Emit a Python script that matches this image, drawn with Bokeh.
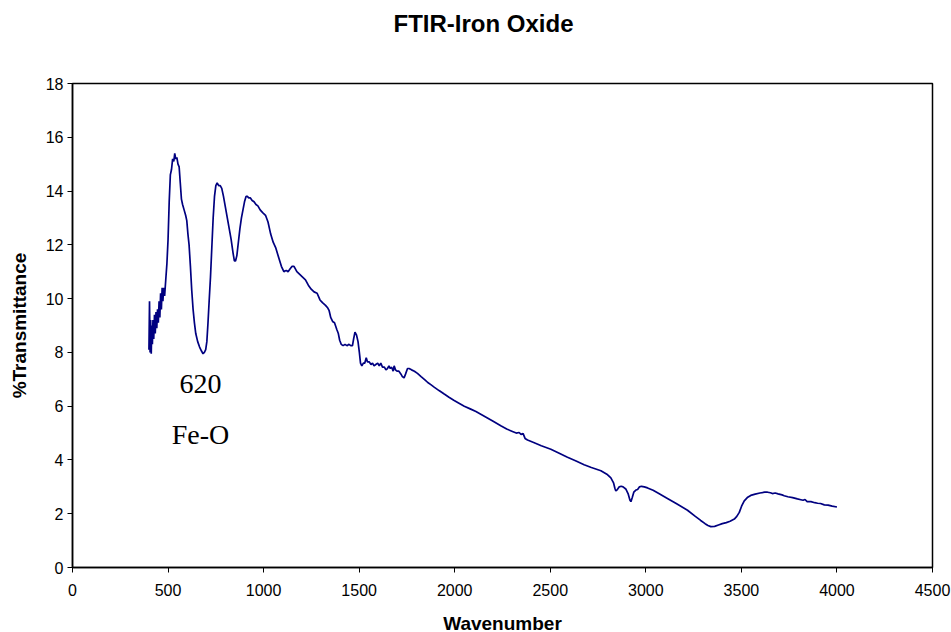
from bokeh.plotting import figure
from bokeh.models import Range1d, ColumnDataSource, FixedTicker, Title
from bokeh.core.properties import value
from bokeh.embed import file_html
from bokeh.resources import INLINE

title_text = "FTIR-Iron Oxide"
x_label = "Wavenumber"
y_label = "%Transmittance"
x_ticks = [0, 500, 1000, 1500, 2000, 2500, 3000, 3500, 4000, 4500]
y_ticks = [0, 2, 4, 6, 8, 10, 12, 14, 16, 18]

wavenumber = [
    400, 403, 406, 409, 412, 415, 418, 421, 425, 429, 433, 437, 441, 445, 449, 453, 457, 461,
    465, 469, 473, 477, 482, 488, 494, 500, 506, 512, 518, 524, 530, 535, 540, 546, 552, 558,
    564, 570, 576, 584, 592, 598, 604, 610, 617, 624, 631, 638, 645, 655, 665, 675, 683, 690,
    697, 703, 709, 715, 722, 729, 736, 743, 750, 757, 765, 773, 781, 790, 800, 810, 820, 830,
    840, 847, 853, 860, 868, 876, 884, 892, 900, 908, 915, 922, 930, 940, 950, 960, 970, 982,
    995, 1010, 1023, 1037, 1050, 1063, 1080, 1093, 1106, 1118, 1128, 1138, 1149, 1159, 1174,
    1189, 1204, 1219, 1234, 1249, 1264, 1280, 1295, 1308, 1324, 1336, 1343, 1351, 1361, 1371,
    1383, 1391, 1398, 1406, 1416, 1426, 1436, 1447, 1456, 1465, 1471, 1478, 1486, 1494, 1501,
    1507, 1514, 1522, 1529, 1537, 1543, 1552, 1562, 1570, 1578, 1587, 1597, 1605, 1613, 1622,
    1632, 1640, 1648, 1656, 1663, 1670, 1678, 1683, 1690, 1698, 1708, 1718, 1726, 1735, 1743,
    1753, 1761, 1774, 1789, 1805, 1824, 1844, 1859, 1875, 1894, 1918, 1945, 1970, 1995, 2020,
    2050, 2081, 2111, 2141, 2171, 2201, 2241, 2272, 2302, 2322, 2337, 2347, 2358, 2368, 2381,
    2413, 2453, 2503, 2544, 2590, 2635, 2677, 2715, 2765, 2796, 2817, 2831, 2838, 2843, 2851,
    2861, 2871, 2881, 2895, 2907, 2917, 2922, 2929, 2937, 2948, 2957, 2967, 2977, 2992, 3009,
    3038, 3068, 3113, 3159, 3218, 3259, 3287, 3310, 3325, 3340, 3360, 3380, 3400, 3421, 3441,
    3463, 3476, 3489, 3501, 3515, 3531, 3549, 3572, 3597, 3622, 3637, 3652, 3662, 3677, 3692,
    3713, 3724, 3743, 3768, 3793, 3811, 3823, 3833, 3844, 3864, 3884, 3899, 3914, 3934, 3954,
    3975, 4000,
]

transmittance = [
    8.1, 9.9, 8.0, 9.2, 7.95, 9.0, 8.3, 9.2, 8.5, 9.4, 8.7, 9.5, 8.9, 9.6, 9.1, 9.9, 9.3, 10.2,
    9.6, 10.4, 9.9, 10.4, 10.1, 10.7, 11.3, 12.2, 13.6, 14.6, 14.8, 15.2, 15.1, 15.4, 15.2, 15.25, 15.0, 14.9,
    14.3, 13.7, 13.5, 13.3, 13.1, 12.9, 12.4, 12.0, 11.2, 10.3, 9.6, 9.1, 8.7, 8.4, 8.2, 8.05, 7.95, 8.0,
    8.1, 8.4, 9.1, 9.9, 10.8, 11.9, 13.0, 13.8, 14.2, 14.3, 14.2, 14.2, 14.1, 13.8, 13.4, 13.0, 12.6, 12.2,
    11.7, 11.4, 11.4, 11.6, 12.1, 12.6, 13.0, 13.3, 13.6, 13.8, 13.8, 13.75, 13.75, 13.65, 13.6, 13.5, 13.45, 13.3,
    13.2, 13.1, 12.85, 12.4, 12.1, 11.9, 11.5, 11.2, 11.0, 11.05, 11.0, 11.1, 11.2, 11.2, 11.0,
    10.9, 10.8, 10.7, 10.5, 10.35, 10.25, 10.2, 9.95, 9.85, 9.75, 9.65, 9.55, 9.3, 9.15, 9.1,
    8.85, 8.7, 8.45, 8.3, 8.25, 8.3, 8.25, 8.3, 8.25, 8.25, 8.5, 8.75, 8.65, 8.4, 8.0,
    7.6, 7.5, 7.6, 7.6, 7.8, 7.65, 7.65, 7.55, 7.6, 7.5, 7.55, 7.6, 7.5, 7.6, 7.45,
    7.45, 7.35, 7.4, 7.5, 7.4, 7.45, 7.3, 7.5, 7.35, 7.3, 7.3, 7.2, 7.1, 7.05, 7.2,
    7.4, 7.4, 7.35, 7.3, 7.22, 7.1, 6.98, 6.88, 6.8, 6.7, 6.58, 6.45, 6.33, 6.22, 6.12,
    6.0, 5.9, 5.8, 5.68, 5.56, 5.44, 5.27, 5.15, 5.06, 5.0, 5.02, 4.95, 4.98, 4.8, 4.74,
    4.65, 4.53, 4.4, 4.26, 4.1, 3.96, 3.82, 3.72, 3.6, 3.47, 3.33, 3.15, 2.95, 2.85, 2.9,
    3.0, 3.02, 3.0, 2.92, 2.75, 2.5, 2.45, 2.6, 2.8, 2.88, 2.9, 3.0, 3.02, 3.0, 2.96,
    2.87, 2.75, 2.57, 2.38, 2.13, 1.9, 1.75, 1.63, 1.56, 1.52, 1.53, 1.58, 1.63, 1.67, 1.72,
    1.8, 1.9, 2.05, 2.28, 2.48, 2.6, 2.68, 2.73, 2.77, 2.8, 2.8, 2.78, 2.75, 2.77, 2.74,
    2.7, 2.67, 2.63, 2.6, 2.55, 2.52, 2.5, 2.53, 2.45, 2.45, 2.41, 2.39, 2.38, 2.33, 2.32,
    2.28, 2.25,
]

note_text = ["620", "Fe-O"]
note_x = [670, 670]
note_y = [6.84, 4.95]

p = figure(
    frame_width=860, frame_height=484,
    min_border_left=72, min_border_right=19, min_border_top=83, min_border_bottom=65,
    x_range=Range1d(0, 4500), y_range=Range1d(0, 18),
    output_backend="svg", toolbar_location=None,
)
p.background_fill_color = "white"
p.border_fill_color = "white"
p.outline_line_color = "black"
p.outline_line_width = 1.5

# spacer between frame and title, then the title itself (outermost)
spacer = Title(text=" ", text_font_size="10px", standoff=34)
p.add_layout(spacer, "above")
main_title = Title(text=title_text, text_font="Liberation Sans", text_font_size="24px",
                   text_font_style="bold", text_color="black", align="left", offset=321,
                   standoff=0)
p.add_layout(main_title, "above")

p.line(wavenumber, transmittance, line_color="#000080", line_width=1.7)

src = ColumnDataSource(dict(x=note_x, y=note_y, t=note_text))
p.text(x="x", y="y", text="t", source=src, text_font=value("Liberation Serif"),
       text_font_size="28px", text_align="center", text_baseline="middle", text_color="black")

p.xgrid.visible = False
p.ygrid.visible = False

for ax in (p.xaxis[0], p.yaxis[0]):
    ax.axis_line_color = "black"
    ax.axis_line_width = 1.5
    ax.major_tick_line_color = "black"
    ax.major_tick_in = 0
    ax.major_tick_out = 5
    ax.minor_tick_line_color = None
    ax.major_label_text_font = "Liberation Sans"
    ax.major_label_text_font_size = "16px"
    ax.major_label_text_color = "black"
    ax.axis_label_text_font = "Liberation Sans"
    ax.axis_label_text_font_size = "19px"
    ax.axis_label_text_font_style = "bold"
    ax.axis_label_text_color = "black"

p.xaxis.ticker = FixedTicker(ticks=x_ticks)
p.yaxis.ticker = FixedTicker(ticks=y_ticks)
p.xaxis.axis_label = x_label
p.yaxis.axis_label = y_label
p.xaxis.major_label_standoff = 11
p.yaxis.major_label_standoff = 4
p.xaxis.axis_label_standoff = 14
p.yaxis.axis_label_standoff = 13

open("out.html", "w").write(file_html(p, INLINE))
